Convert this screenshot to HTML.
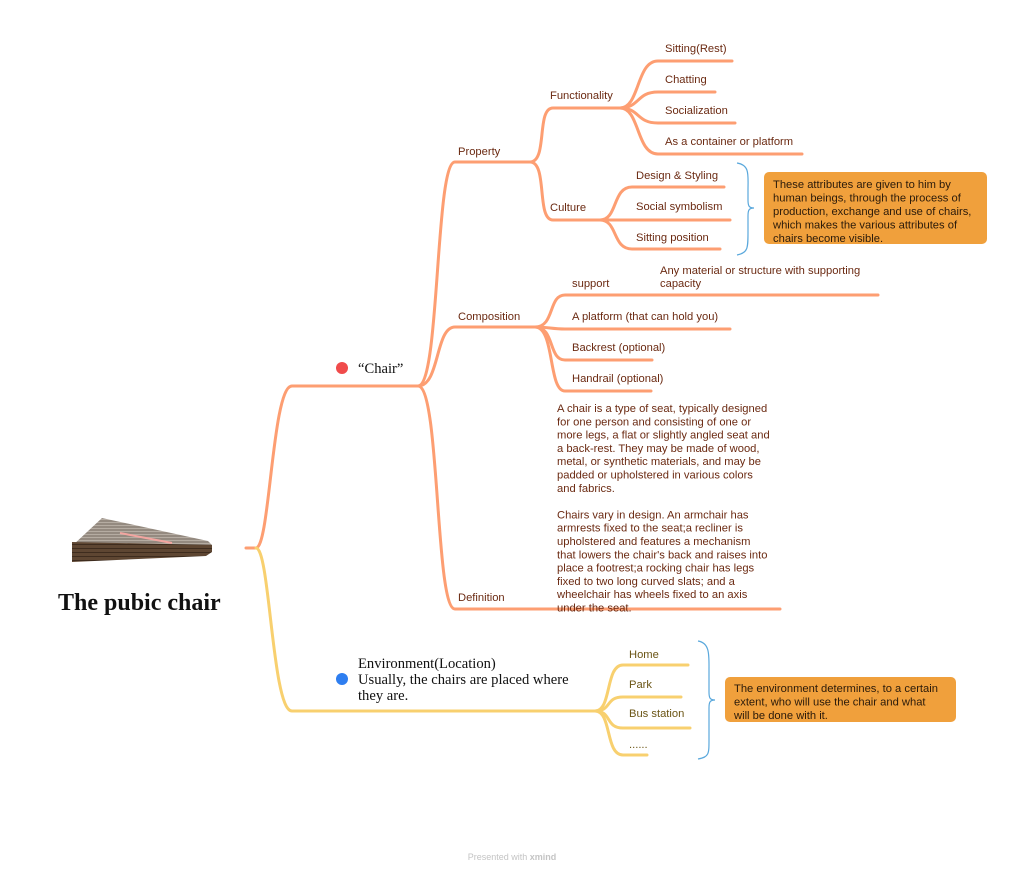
<!DOCTYPE html>
<html><head><meta charset="utf-8"><style>
html,body{margin:0;padding:0;background:#fff;}
svg{display:block}
.t{font-family:"Liberation Sans",sans-serif;font-size:11.2px;fill:#6b2a12}
.e{font-family:"Liberation Sans",sans-serif;font-size:11.2px;fill:#6b5515}
.s{font-family:"Liberation Serif",serif;font-size:14.6px;fill:#111}
.c{font-family:"Liberation Sans",sans-serif;font-size:11.2px;fill:#2a1a0a}
.o{fill:none;stroke:#fd9e72;stroke-width:3;stroke-linecap:round}
.y{fill:none;stroke:#f8d06f;stroke-width:3;stroke-linecap:round}
.b{fill:none;stroke:#5aa8dc;stroke-width:1.2}
</style></head><body>
<svg width="1024" height="876" viewBox="0 0 1024 876" xmlns="http://www.w3.org/2000/svg">
<defs>
<pattern id="st" width="6" height="3" patternUnits="userSpaceOnUse"><rect width="6" height="3" fill="#948a80"/><rect width="6" height="1" fill="#b5aca2"/></pattern>
<pattern id="wd" width="8" height="4" patternUnits="userSpaceOnUse"><rect width="8" height="4" fill="#5e4632"/><rect width="8" height="1" fill="#3e2c1e"/></pattern>
</defs>
<!-- root image -->
<polygon points="102,518 208,541 212,545 72,546" fill="url(#st)"/>
<polygon points="72,542 212,545 212,552 206,556 72,562" fill="url(#wd)"/>
<line x1="120" y1="533" x2="172" y2="543" stroke="#f2a5a0" stroke-width="2"/>
<text x="58" y="610" font-family="Liberation Serif,serif" font-weight="bold" font-size="24" fill="#111">The pubic chair</text>

<!-- main branches -->
<path class="o" d="M246,548 H256 C270,548 272,386 292,386 H418"/>
<path class="y" d="M256,548 C270,548 272,711 292,711 H595"/>

<!-- chair hub -->
<path class="o" d="M418,386 C440,386 435,162 455,162 H530"/>
<path class="o" d="M418,386 C440,386 435,327 455,327 H535"/>
<path class="o" d="M418,386 C440,386 435,609 455,609 H780"/>

<!-- property -->
<path class="o" d="M530,162 C548,162 536,108 553,108 H620"/>
<path class="o" d="M530,162 C548,162 536,220 553,220 H600"/>
<!-- functionality -->
<path class="o" d="M620,108 C640,108 636,61 658,61 H732"/>
<path class="o" d="M620,108 C640,108 636,92 658,92 H715"/>
<path class="o" d="M620,108 C640,108 636,123 658,123 H735"/>
<path class="o" d="M620,108 C640,108 636,154 658,154 H802"/>
<!-- culture -->
<path class="o" d="M600,220 C618,220 612,187 632,187 H724"/>
<path class="o" d="M600,220 H730"/>
<path class="o" d="M600,220 C618,220 612,249 632,249 H720"/>
<!-- composition -->
<path class="o" d="M535,327 C555,327 548,295 565,295 H878"/>
<path class="o" d="M535,327 C548,327 552,329 565,329 H730"/>
<path class="o" d="M535,327 C555,327 548,360 565,360 H652"/>
<path class="o" d="M535,327 C555,327 548,391 565,391 H651"/>

<!-- environment -->
<path class="y" d="M595,711 C612,711 605,665 623,665 H688"/>
<path class="y" d="M595,711 C612,711 605,697 623,697 H681"/>
<path class="y" d="M595,711 C612,711 605,728 623,728 H690"/>
<path class="y" d="M595,711 C612,711 605,755 623,755 H647"/>

<!-- braces -->
<path class="b" d="M737,163 C750,165 748,175 748,190 V200 C748,206 749,208 754,208 C749,208 748,210 748,216 V232 C748,248 748,253 737,255"/>
<path class="b" d="M698,641 C710,643 709,655 709,670 V692 C709,698 710,700 715,700 C710,700 709,702 709,708 V740 C709,754 709,757 698,759"/>

<!-- callouts -->
<rect x="764" y="172" width="223" height="72" rx="5" fill="#f0a03c"/>
<text class="c"><tspan x="773" y="188">These attributes are given to him by</tspan><tspan x="773" y="201.5">human beings, through the process of</tspan><tspan x="773" y="215">production, exchange and use of chairs,</tspan><tspan x="773" y="228.5">which makes the various attributes of</tspan><tspan x="773" y="242">chairs become visible.</tspan></text>
<rect x="725" y="677" width="231" height="45" rx="5" fill="#f0a03c"/>
<text class="c"><tspan x="734" y="692">The environment determines, to a certain</tspan><tspan x="734" y="705.5">extent, who will use the chair and what</tspan><tspan x="734" y="719">will be done with it.</tspan></text>

<!-- labels -->
<circle cx="342" cy="368" r="6" fill="#f04b4b"/>
<text class="s" x="358" y="373">“Chair”</text>
<circle cx="342" cy="679" r="6" fill="#2e7ef0"/>
<text class="s"><tspan x="358" y="668">Environment(Location)</tspan><tspan x="358" y="684">Usually, the chairs are placed where</tspan><tspan x="358" y="700">they are.</tspan></text>

<text class="t" x="458" y="155">Property</text>
<text class="t" x="550" y="99">Functionality</text>
<text class="t" x="550" y="211">Culture</text>
<text class="t" x="665" y="52">Sitting(Rest)</text>
<text class="t" x="665" y="83">Chatting</text>
<text class="t" x="665" y="114">Socialization</text>
<text class="t" x="665" y="145">As a container or platform</text>
<text class="t" x="636" y="179">Design &amp; Styling</text>
<text class="t" x="636" y="210">Social symbolism</text>
<text class="t" x="636" y="241">Sitting position</text>
<text class="t" x="458" y="320">Composition</text>
<text class="t" x="572" y="287">support</text>
<text class="t"><tspan x="660" y="274">Any material or structure with supporting</tspan><tspan x="660" y="287">capacity</tspan></text>
<text class="t" x="572" y="320">A platform (that can hold you)</text>
<text class="t" x="572" y="351">Backrest (optional)</text>
<text class="t" x="572" y="382">Handrail (optional)</text>
<text class="t" x="458" y="601">Definition</text>
<text class="t"><tspan x="557" y="412">A chair is a type of seat, typically designed</tspan><tspan x="557" y="425.3">for one person and consisting of one or</tspan><tspan x="557" y="438.6">more legs, a flat or slightly angled seat and</tspan><tspan x="557" y="451.9">a back-rest. They may be made of wood,</tspan><tspan x="557" y="465.2">metal, or synthetic materials, and may be</tspan><tspan x="557" y="478.5">padded or upholstered in various colors</tspan><tspan x="557" y="491.8">and fabrics.</tspan><tspan x="557" y="518.4">Chairs vary in design. An armchair has</tspan><tspan x="557" y="531.7">armrests fixed to the seat;a recliner is</tspan><tspan x="557" y="545">upholstered and features a mechanism</tspan><tspan x="557" y="558.3">that lowers the chair's back and raises into</tspan><tspan x="557" y="571.6">place a footrest;a rocking chair has legs</tspan><tspan x="557" y="584.9">fixed to two long curved slats; and a</tspan><tspan x="557" y="598.2">wheelchair has wheels fixed to an axis</tspan><tspan x="557" y="611.5">under the seat.</tspan></text>

<text class="e" x="629" y="658">Home</text>
<text class="e" x="629" y="688">Park</text>
<text class="e" x="629" y="717">Bus station</text>
<text class="e" x="629" y="748">......</text>

<text x="512" y="860" text-anchor="middle" font-family="Liberation Sans,sans-serif" font-size="9" fill="#c4c4c4">Presented with <tspan font-weight="bold">xmind</tspan></text>
</svg>
</body></html>
